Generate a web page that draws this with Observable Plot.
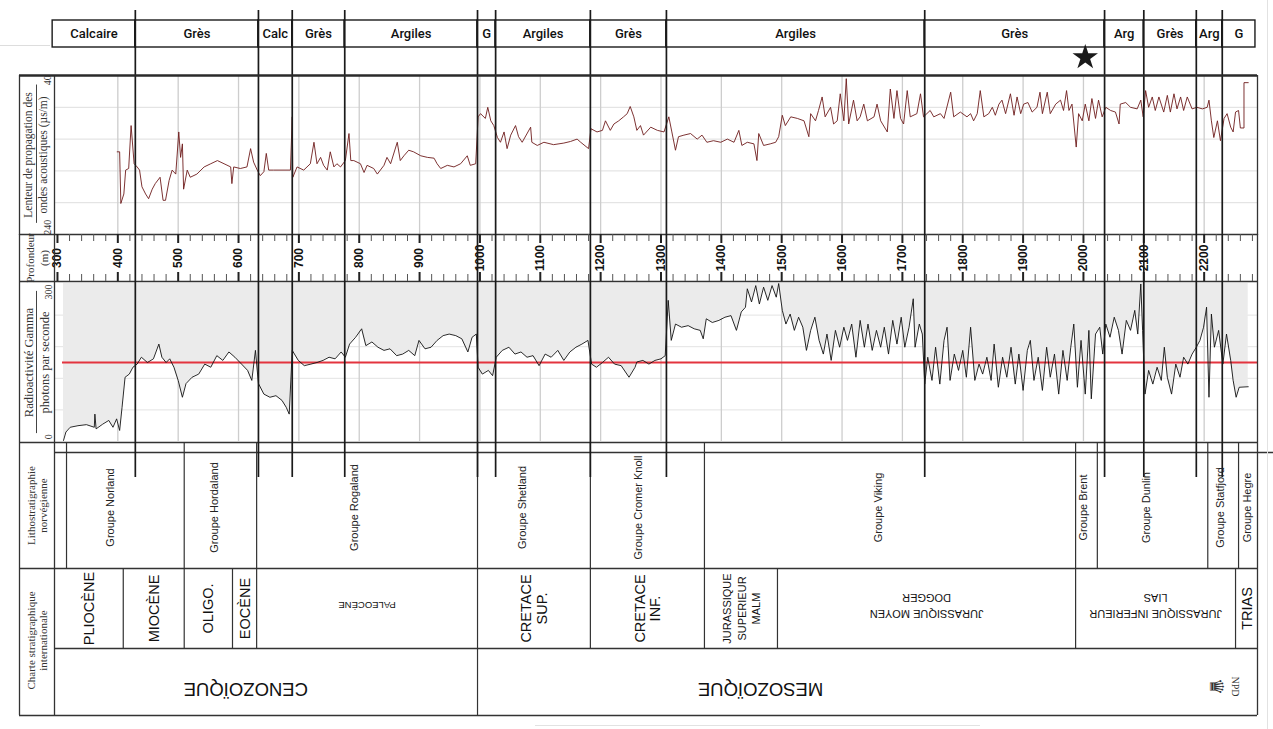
<!DOCTYPE html>
<html><head><meta charset="utf-8">
<script src="https://cdn.jsdelivr.net/npm/d3@7"></script>
<script src="https://cdn.jsdelivr.net/npm/@observablehq/plot@0.6"></script>
<style>
body{margin:0;background:#fff}
#fig{position:relative;width:1273px;height:729px;overflow:hidden;background:#fff}
#fig svg{position:absolute;left:0;overflow:visible}
.faint{position:absolute;background:#e2e2e2}
</style></head><body><div id="fig"></div>
<script>
// ---------- DATA ----------
const lithoNames = ["Calcaire","Grès","Calc","Grès","Argiles","G","Argiles","Grès","Argiles","Grès","Arg","Grès","Arg","G"];
const lithoBounds = [292,429,633,689,776,996,1026,1183,1309,1737,2035,2100,2187,2230,2285];
const starDepth = [2003];
const depthTicks = [300,400,500,600,700,800,900,1000,1100,1200,1300,1400,1500,1600,1700,1800,1900,2000,2100,2200];
const gridDepths = [400,500,600,700,800,900,1000,1100,1200,1300,1400,1500,1600,1700,1800,1900,2000,2100,2200];
const sonicGrid = [80,120,160,200];
const gammaGrid = [60,120,180,240];
const gammaCutoff = [150];

const sonicDepth = [399,403,405,410,413,418,422,427,432,436,440,446,451,457,462,470,475,479,485,490,496,501,504,507,509,515,520,531,543,554,565,576,587,589,592,603,614,620,625,631,636,642,646,650,658,686,689,690,697,708,719,725,730,736,741,747,752,758,763,769,777,783,786,791,802,808,813,824,830,841,846,852,863,868,874,882,890,902,913,924,929,935,946,957,968,979,984,993,997,1001,1009,1013,1018,1023,1029,1034,
1040,1045,1051,1059,1064,1070,1084,1086,1095,1106,1122,1139,1150,1161,1167,1180,1184,1194,1203,1208,1216,1222,1230,1238,1244,1249,1255,1260,1266,1271,1283,1294,1305,1313,1318,1324,1329,1338,1349,1360,1368,1376,1387,1399,1410,1421,1429,1434,1443,1454,1459,1462,1470,1481,1490,1495,1501,1506,1515,1526,1537,1545,1548,1556,1561,1567,1572,1581,1586,1592,1597,1603,1607,1611,1619,1625,1630,1636,1642,1653,1658,1664,1675,1680,1686,1691,1697,1702,1708,1713,1724,1730,1735,1746,1752,1763,1769,1780,1785,1796,1807,1813,
1818,1824,1829,1835,1843,1849,1854,1860,1865,1871,1879,1885,1890,1896,1901,1908,1915,1923,1928,1932,1940,1945,1954,1962,1967,1972,1976,1981,1988,1992,1998,2003,2009,2014,2020,2025,2031,2037,2045,2053,2059,2061,2070,2078,2089,2095,2099,2103,2108,2114,2119,2125,2133,2139,2144,2150,2155,2161,2166,2172,2180,2188,2197,2205,2208,2212,2216,2222,2227,2233,2238,2244,2248,2252,2257,2260,2266,2266,2273];
const sonicValue = [136,136,201,189,159,157,103,151,155,159,180,189,195,183,176,168,197,197,172,159,164,111,143,126,183,159,168,164,155,151,147,151,155,176,155,157,155,132,149,159,166,161,138,159,159,159,92,168,155,159,151,124,151,143,153,159,136,155,151,155,147,113,147,147,151,162,153,157,164,153,143,151,124,147,141,134,136,141,143,144,151,157,153,155,151,141,153,151,92,88,94,80,97,103,118,124,
111,132,115,103,117,124,105,124,128,124,127,125,123,120,124,132,107,111,109,97,109,101,97,92,88,79,92,109,103,115,105,109,111,92,111,134,117,115,113,120,115,124,122,124,120,124,109,128,124,126,147,113,128,126,124,117,90,103,92,94,97,117,88,97,84,67,92,80,101,97,63,97,44,101,71,97,92,76,97,92,76,97,111,57,94,59,94,101,59,92,88,63,92,84,92,88,94,61,92,86,92,88,
97,88,59,92,88,80,90,76,71,88,63,90,67,88,76,74,86,80,61,88,61,88,76,71,84,59,84,76,130,88,97,76,97,69,94,71,92,80,84,86,101,76,74,80,82,71,92,59,80,67,84,67,86,65,86,63,82,67,84,67,82,80,82,80,71,97,118,97,122,94,88,105,111,86,84,106,106,49,49];

const gammaDepth = [310,314,321,334,348,361,362,364,375,385,392,398,403,407,412,419,425,432,439,449,459,468,473,480,486,493,500,507,513,523,534,544,554,564,574,584,594,605,615,622,628,633,642,652,662,672,679,684,689,699,709,720,730,740,750,760,770,777,784,794,804,811,821,831,841,851,862,872,882,892,899,909,919,929,939,949,960,970,980,987,994,997,1004,1014,1021,1027,1037,1048,1058,1068,1078,1088,1098,1108,1118,1129,1139,1149,1159,1169,1179,1185,1193,1203,1213,1223,1234,1247,1257,
1260,1270,1280,1290,1300,1307,1312,1317,1324,1334,1345,1355,1365,1370,1375,1385,1396,1406,1416,1425,1433,1440,1443,1450,1457,1463,1470,1477,1484,1491,1495,1501,1507,1514,1521,1528,1535,1541,1548,1555,1562,1569,1575,1582,1589,1596,1603,1609,1616,1623,1630,1637,1643,1650,1657,1664,1670,1677,1684,1691,1698,1704,1711,1718,1721,1728,1733,1737,1742,1749,1755,1762,1769,1774,1779,1786,1793,1800,1806,1813,1820,1827,1833,1840,1847,1852,1859,1866,1873,1880,1887,1893,1900,1907,1912,1918,1925,1932,1939,1945,1952,1959,1966,1973,1979,1984,1990,1996,2003,2009,2013,2020,2027,2032,2037,2044,2051,2058,2064,2071,2078,2085,2090,2095,2098,2102,2108,2115,2122,2129,2134,2139,2146,2153,2160,2166,2173,2180,2187,2193,2199,2204,2208,2212,2217,2224,2231,2237,2244,2248,2253,2258,2273];
const gammaValue = [2,18,27,30,32,27,52,24,33,40,27,43,21,65,122,128,141,147,160,150,157,185,160,150,157,141,116,84,110,122,128,147,141,163,154,170,160,147,135,116,173,110,90,84,87,78,65,52,173,154,144,147,150,154,160,157,170,160,185,198,214,182,189,179,173,176,163,166,173,163,192,176,179,192,201,204,201,195,170,198,204,141,128,135,125,160,173,179,166,170,160,163,144,166,160,173,154,170,179,185,192,147,141,150,160,147,144,122,141,
151,154,147,154,157,163,268,192,223,217,220,214,211,195,233,226,230,236,239,211,246,255,290,265,296,261,293,268,296,274,300,249,223,242,211,236,217,173,211,236,192,166,204,154,211,179,217,192,223,160,230,179,223,173,211,179,217,166,230,185,236,179,217,271,179,223,204,109,160,116,179,109,192,217,116,166,135,173,122,217,116,147,128,160,116,185,103,160,122,179,109,166,97,173,192,116,160,97,179,122,166,90,173,116,179,223,103,192,90,211,81,204,217,166,223,198,236,211,166,230,211,249,204,299,211,90,135,109,141,116,179,122,90,147,122,160,147,166,179,192,217,255,84,242,179,211,147,204,154,116,84,103,104];

const groupNames = ["Groupe Norland","Groupe Hordaland","Groupe Rogaland","Groupe Shetland","Groupe Cromer Knoll","Groupe Viking","Groupe Brent","Groupe Dunlin","Groupe Statfjord","Groupe Hegre"];
const groupBounds = [315,510,630,996,1183,1372,1987,2023,2206,2257,2288];
const groupLabelDepth = [388,560,792,1070,1263,1660,2000,2105,2227,2272];

const chronoNames = ["PLIOCÈNE","MIOCÈNE","OLIGO.","EOCÈNE","PALEOCÈNE","CRETACE\nSUP.","CRETACE\nINF.","JURASSIQUE\nSUPERIEUR\nMALM","JURASSIQUE MOYEN\nDOGGER","JURASSIQUE INFERIEUR\nLIAS","TRIAS"];
const chronoBounds = [295,409,510,590,630,996,1183,1372,1493,1987,2252,2288];
const chronoFlipped = ["PALEOCÈNE","JURASSIQUE MOYEN\nDOGGER","JURASSIQUE INFERIEUR\nLIAS"];
const chronoSmall = ["JURASSIQUE\nSUPERIEUR\nMALM"];

const eraNames = ["CENOZOÏQUE","MESOZOÏQUE"];
const eraBounds = [295,996,2288];
const eraLabelDepth = [612,1465];

// ---------- LAYOUT ----------
const X_DOMAIN = [205.6, 2314.9];            // depth at page pixel 0 and 1273
const px = p => X_DOMAIN[0] + p * (X_DOMAIN[1] - X_DOMAIN[0]) / 1273;
const L_OUT = px(19), L_IN = px(54), R = px(1257), FAR = px(1273);
const SANS = "'Liberation Sans', Arial, Helvetica, sans-serif";
const SERIF = "'Liberation Serif', 'Times New Roman', serif";
function hasFont(f){const c=document.createElement("canvas").getContext("2d");const s="MESOZOIQUE mmwwii";c.font="20px monospace";const a=c.measureText(s).width;c.font=`20px '${f}', monospace`;return Math.abs(c.measureText(s).width-a)>0.5;}
const narrowOK = hasFont("Liberation Sans Narrow");
const NARROW = narrowOK ? "'Liberation Sans Narrow', sans-serif" : SANS;
const k = narrowOK ? 1.2 : 1;
const INK = "#1a1a1a", FRAME = "#333";

const lithoRows = lithoNames.map((name, i) => ({name, a: lithoBounds[i], b: lithoBounds[i + 1]}));
const innerBounds = lithoBounds.slice(1, -1);
const sonic = sonicDepth.map((d, i) => ({d, v: sonicValue[i]}));
const gamma = gammaDepth.map((d, i) => ({d, v: gammaValue[i]}));
const groups = groupNames.map((name, i) => ({name, at: groupLabelDepth[i]}));
const chrono = chronoNames.map((name, i) => ({name, mid: (chronoBounds[i] + chronoBounds[i + 1]) / 2}));
const eras = eraNames.map((name, i) => ({name, at: eraLabelDepth[i]}));

const fig = document.getElementById("fig");
function panel(top, height, y, marks) {
  const svg = Plot.plot({
    width: 1273, height, margin: 0,
    x: {domain: X_DOMAIN, range: [0, 1273], axis: null},
    y: {...y, axis: null},
    style: {background: "transparent", overflow: "visible"},
    marks
  });
  svg.style.top = top + "px";
  fig.appendChild(svg);
}
const sideRules = () => Plot.ruleX([L_OUT, L_IN, R], {stroke: FRAME, strokeWidth: 1.3});
const bigRules = (o = {}) => Plot.ruleX(innerBounds, {stroke: INK, strokeWidth: 1.7, ...o});
const label = (t, p, y, o = {}) => Plot.text([t], {x: px(p), y, text: d => d, rotate: -90, fontFamily: SERIF, fontSize: 11, fill: "#333", ...o});

// ---------- TOP: lithology band ----------
panel(0, 75, {domain: [0, 75], range: [0, 75]}, [
  Plot.ruleY([45], {x1: px(0), x2: px(50), stroke: "#ddd"}),
  Plot.rect(lithoRows, {x1: "a", x2: "b", y1: 20, y2: 47, fill: "white", stroke: INK, strokeWidth: 1.4}),
  Plot.text(lithoRows, {x: d => (d.a + d.b) / 2, y: 33.5, text: "name", fontFamily: "Roboto, " + SANS, fontWeight: 500, fontSize: 13, fill: "#111"}),
  bigRules({y1: 10, y2: 75}),
  Plot.dot(starDepth, {x: d => d, y: 57, symbol: "star", r: 8, fill: "#1a1a1a"})
]);

// ---------- SONIC ----------
panel(75, 160, {domain: [40, 240], range: [0, 159]}, [
  Plot.ruleY(sonicGrid, {x1: L_IN, x2: R, stroke: "#dedede"}),
  Plot.ruleX(gridDepths, {y1: 40, y2: 240, stroke: "#cdcdcd", strokeWidth: 1.3}),
  Plot.line(sonic, {x: "d", y: "v", stroke: "#6e1c1c", strokeWidth: 0.9}),
  bigRules(),
  sideRules(),
  Plot.ruleY([40], {x1: L_OUT, x2: R, stroke: "#2a2a2a", strokeWidth: 2.6}),
  Plot.ruleX([px(36)], {y1: 52, y2: 226, stroke: "#444", strokeWidth: 1}),
  label("Lenteur de propagation des", 28, 140, {fontSize: 11.5}),
  label("ondes acoustiques (µs/m)", 43, 140, {fontSize: 11.5}),
  label("40", 47.5, 46, {fontSize: 10}),
  label("240", 47.5, 231, {fontSize: 10})
]);

// ---------- DEPTH AXIS ----------
const minorTicks = d3.range(300, 2290, 20).filter(d => d % 100 !== 0);
panel(234, 47, {domain: [0, 47], range: [0, 47]}, [
  Plot.ruleY([0], {x1: L_OUT, x2: R, stroke: FRAME, strokeWidth: 1.4}),
  Plot.ruleY([47], {x1: L_OUT, x2: R, stroke: FRAME, strokeWidth: 1.4}),
  Plot.ruleX(minorTicks, {y1: 0, y2: 7, stroke: "#555", strokeWidth: 1}),
  Plot.ruleX(minorTicks, {y1: 40, y2: 47, stroke: "#555", strokeWidth: 1}),
  Plot.ruleX(depthTicks, {y1: 0, y2: 9, stroke: "#222", strokeWidth: 2}),
  Plot.ruleX(depthTicks, {y1: 38, y2: 47, stroke: "#222", strokeWidth: 2}),
  Plot.text(depthTicks, {x: d => d, y: 23.5, text: d => String(d), rotate: -90, fontFamily: SANS, fontWeight: "bold", fontSize: 12, fill: "#111"}),
  bigRules(),
  sideRules(),
  label("Profondeur", 30, 23.5),
  label("(m)", 44, 23.5)
]);

// ---------- GAMMA ----------
panel(281, 161, {domain: [0, 300], range: [160, 2]}, [
  Plot.ruleY(gammaGrid, {x1: L_IN, x2: R, stroke: "#e3e3e3"}),
  Plot.ruleX(gridDepths, {y1: 0, y2: 300, stroke: "#cdcdcd", strokeWidth: 1.3}),
  Plot.areaY(gamma, {x: "d", y1: "v", y2: 300, fill: "#ebebeb"}),
  Plot.ruleY(gammaCutoff, {x1: px(62), x2: R, stroke: "#e3343f", strokeWidth: 2}),
  Plot.line(gamma, {x: "d", y: "v", stroke: "#111", strokeWidth: 0.9}),
  bigRules(),
  sideRules(),
  Plot.ruleX([px(36)], {y1: 15, y2: 285, stroke: "#444", strokeWidth: 1}),
  label("Radioactivité Gamma", 28, 150, {fontSize: 12.5}),
  label("photons par seconde", 44, 150, {fontSize: 12.5}),
  label("300", 48, 284, {fontSize: 10}),
  label("0", 48, 9, {fontSize: 10})
]);

// ---------- LITHOSTRATIGRAPHY ----------
panel(442, 126, {domain: [0, 126], range: [0, 126]}, [
  Plot.ruleY([0], {x1: L_OUT, x2: R, stroke: FRAME, strokeWidth: 1.4}),
  Plot.ruleY([10], {x1: L_IN, x2: FAR, stroke: FRAME, strokeWidth: 1.3}),
  Plot.ruleX(groupBounds.slice(0, -1), {stroke: FRAME, strokeWidth: 1.2}),
  bigRules({y1: 0, y2: 35}),
  sideRules(),
  Plot.text(groups, {x: "at", y: 65, text: "name", rotate: -90, fontFamily: SANS, fontSize: 11, fill: "#222"}),
  label("Lithostratigraphie", 31, 63),
  label("norvégienne", 43, 63)
]);

// ---------- CHRONOSTRATIGRAPHY ----------
const upright = chrono.filter(c => !chronoFlipped.includes(c.name) && !chronoSmall.includes(c.name));
panel(568, 80, {domain: [0, 80], range: [0, 80]}, [
  Plot.ruleY([0], {x1: L_OUT, x2: R, stroke: FRAME, strokeWidth: 1.4}),
  Plot.ruleX(chronoBounds.slice(1, -1), {stroke: FRAME, strokeWidth: 1.2}),
  sideRules(),
  Plot.text(upright, {x: "mid", y: 40, text: "name", rotate: -90, fontFamily: SANS, fontSize: 14.5, lineHeight: 1.1, fill: "#111"}),
  Plot.text(chrono.filter(c => chronoSmall.includes(c.name)), {x: "mid", y: 40, text: "name", rotate: -90, fontFamily: SANS, fontSize: 11, lineHeight: 1.3, fill: "#111"}),
  Plot.text(chrono.filter(c => c.name === "PALEOCÈNE"), {x: "mid", y: 37, text: "name", rotate: 180, fontFamily: NARROW, fontSize: 9.5 * k, fill: "#111"}),
  Plot.text(chrono.filter(c => chronoFlipped.includes(c.name) && c.name !== "PALEOCÈNE"), {x: "mid", y: 39, text: "name", rotate: 180, fontFamily: NARROW, fontSize: 11 * k, lineHeight: 1.45, fill: "#111"}),
  label("Charte stratigraphique", 31, 72),
  label("internationale", 43, 72)
]);

// ---------- ERAS ----------
panel(648, 67, {domain: [0, 67], range: [0, 67]}, [
  Plot.ruleY([0], {x1: L_IN, x2: R, stroke: FRAME, strokeWidth: 1.4}),
  Plot.ruleY([67], {x1: L_OUT, x2: R, stroke: FRAME, strokeWidth: 1.4}),
  Plot.ruleX(eraBounds.slice(1, -1), {stroke: FRAME, strokeWidth: 1.2}),
  sideRules(),
  Plot.text(eras, {x: "at", y: 40, text: "name", rotate: 180, fontFamily: NARROW, fontSize: 18.5 * k, fill: "#111"}),
  Plot.text(["♛"], {x: px(1216), y: 38, text: d => d, rotate: 90, fontSize: 19, fill: "#333"}),
  Plot.text(["NPD"], {x: px(1235), y: 38, text: d => d, rotate: 90, fontFamily: SERIF, fontSize: 10, fill: "#333"})
]);

// faint page artefacts
for (const [l, t, w, h] of [[1267, 0, 1, 729], [535, 725, 445, 1]]) {
  const d = document.createElement("div"); d.className = "faint";
  Object.assign(d.style, {left: l + "px", top: t + "px", width: w + "px", height: h + "px"});
  fig.appendChild(d);
}
</script></body></html>
